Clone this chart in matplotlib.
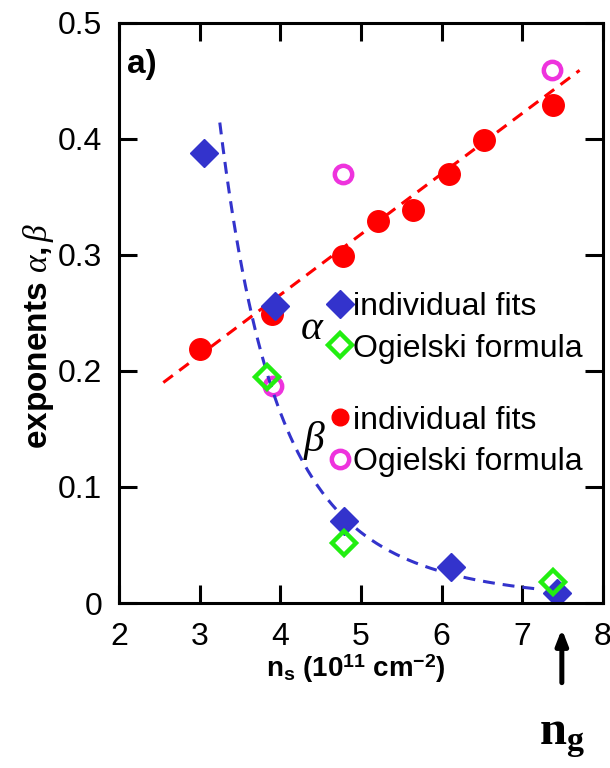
import numpy as np
import matplotlib
matplotlib.use('Agg')
import matplotlib.pyplot as plt
from matplotlib.lines import Line2D

plt.rcParams['font.family'] = ['Liberation Sans', 'DejaVu Sans']
plt.rcParams['mathtext.fontset'] = 'custom'
plt.rcParams['mathtext.rm'] = 'Liberation Sans:bold'
plt.rcParams['mathtext.it'] = 'Liberation Serif:italic'
plt.rcParams['mathtext.bf'] = 'Liberation Serif:bold'

# alpha: individual fits and Ogielski formula
ns_alpha = [3.0, 3.9, 4.78, 5.21, 5.65, 6.09, 6.53, 7.38]
alpha_fit = [0.219, 0.249, 0.299, 0.329, 0.339, 0.370, 0.399, 0.429]
ns_alpha_og = [3.91, 4.78, 7.37]
alpha_og = [0.187, 0.370, 0.459]

# beta: individual fits and Ogielski formula
ns_beta = [3.05, 3.93, 4.79, 6.12, 7.43]
beta_fit = [0.388, 0.256, 0.071, 0.031, 0.009]
ns_beta_og = [3.83, 4.79, 7.38]
beta_og = [0.195, 0.052, 0.018]

# linear trend for alpha (end points)
alpha_line_x = [2.55, 7.71]
alpha_line_y = [0.19, 0.459]

# power-law trend for beta: b0 * (ns / n0) ** -p
beta_b0, beta_n0, beta_p = 0.414, 3.25, 4.45
beta_range = (3.25, 7.2)

ng = 7.49  # critical density marked by the arrow

blue = '#3333cc'
red = '#ff0000'
green = '#22ee11'
magenta = '#ee33dd'

fig = plt.figure(figsize=(6.1, 7.68), dpi=100)
ax = fig.add_axes([0.195, 0.2148, 0.7935, 0.7556])

ax.plot(alpha_line_x, alpha_line_y, ls='--', color=red, lw=2.2, dashes=(3.9, 2.6))
ax.plot(ns_alpha, alpha_fit, 'o', ms=15.5, color=red, ls='none')
ax.plot(ns_alpha_og, alpha_og, 'o', ms=12.5, mfc='white', mec=magenta, mew=3.2, ls='none')

xs = np.linspace(beta_range[0], beta_range[1], 200)
ax.plot(xs, beta_b0 * (xs / beta_n0) ** -beta_p, ls='--', color=blue, lw=2.2, dashes=(3.9, 2.6))
ax.plot(ns_beta, beta_fit, 'D', ms=14, color=blue, ls='none')
ax.plot(ns_beta_og, beta_og, 'D', ms=12, mfc='none', mec=green, mew=3.2, ls='none')

ax.set_xlim(2, 8)
ax.set_ylim(0, 0.5)
ax.set_xticks(range(2, 9))
ax.set_yticks([0, 0.1, 0.2, 0.3, 0.4, 0.5])
ax.set_yticklabels(['0', '0.1', '0.2', '0.3', '0.4', '0.5'])
ax.tick_params(direction='in', length=13, width=2.2, labelsize=23, pad=12,
               top=True, right=True)
ax.tick_params(axis='x', pad=14)
for s in ax.spines.values():
    s.set_linewidth(2.2)

ax.set_xlabel(r'n$_\mathrm{s}$ (10$^\mathrm{11}$ cm$^\mathrm{-2}$)',
              fontweight='bold', fontsize=20)
ax.xaxis.set_label_coords(0.489, -0.085)
ax.set_ylabel(r'exponents $\alpha, \beta$', fontweight='bold', fontsize=24)
ax.yaxis.set_label_coords(-0.13, 0.46)

ax.text(0.016, 0.955, 'a)', transform=ax.transAxes, fontsize=24,
        fontweight='bold', va='top')

# legend groups
h_beta = [Line2D([], [], marker='D', ms=14, color=blue, ls='none'),
          Line2D([], [], marker='D', ms=12, mfc='none', mec=green, mew=3.2, ls='none')]
h_alpha = [Line2D([], [], marker='o', ms=12, color=red, ls='none'),
           Line2D([], [], marker='o', ms=12.5, mfc='white', mec=magenta, mew=3.2, ls='none')]
labels = ['individual fits', 'Ogielski formula']
kw = dict(frameon=False, fontsize=23, handlelength=0.7, handletextpad=0.05,
          labelspacing=0.35, borderpad=0, borderaxespad=0, loc='center left')
leg1 = ax.legend(h_beta, labels, bbox_to_anchor=(0.434, 0.474), **kw)
ax.add_artist(leg1)
ax.legend(h_alpha, labels, bbox_to_anchor=(0.434, 0.279), **kw)

ax.text(0.40, 0.474, r'$\alpha$', transform=ax.transAxes, fontsize=30,
        ha='center', va='center')
ax.text(0.405, 0.28, r'$\beta$', transform=ax.transAxes, fontsize=30,
        ha='center', va='center')

# arrow marking n_g below the axis
ax.annotate('', xy=(ng, -0.02), xytext=(ng, -0.071), annotation_clip=False,
            arrowprops=dict(arrowstyle='-|>,head_width=0.35,head_length=0.9',
                            color='black', lw=3.6))
ax.text(ng, -0.116, r'$\mathbf{n}_\mathbf{g}$', fontsize=35, ha='center',
        va='center', clip_on=False)

fig.savefig('out.png', dpi=100)
